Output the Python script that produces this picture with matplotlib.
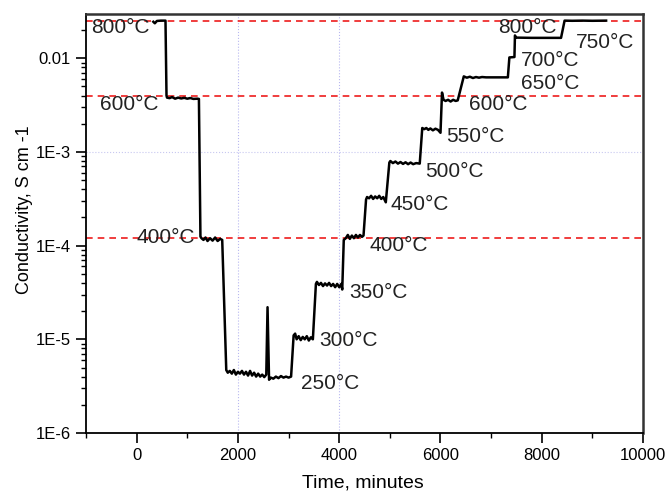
import numpy as np
import matplotlib
matplotlib.use('Agg')
import matplotlib.pyplot as plt
from matplotlib.ticker import FixedLocator, FixedFormatter, LogLocator, NullFormatter, MultipleLocator

plt.rcParams['font.family'] = ['Liberation Sans', 'DejaVu Sans']

# Conductivity during the heating / cooling programme (time in minutes, S/cm)
time_min = [330, 360, 400, 480, 570,
            590, 600, 650, 700, 760, 820, 880, 940, 1000, 1060, 1120, 1200, 1230,
            1260, 1280, 1320, 1360, 1400, 1450, 1500, 1550, 1600, 1650, 1690,
            1740, 1770, 1800, 1840, 1880, 1920, 1960, 2000, 2040, 2080, 2120, 2160,
            2200, 2240, 2280, 2320, 2360, 2400, 2440, 2480, 2520, 2560,
            2585, 2615, 2650, 2700, 2750, 2800, 2850, 2900, 2950, 3000, 3050,
            3100, 3130, 3160, 3200, 3240, 3280, 3320, 3360, 3400, 3440, 3480,
            3540, 3560, 3600, 3640, 3680, 3720, 3760, 3800, 3840, 3880, 3920, 3960,
            4000, 4040, 4060,
            4090, 4130, 4170, 4210, 4250, 4290, 4330, 4370, 4410, 4450, 4480,
            4530, 4550, 4590, 4630, 4670, 4710, 4750, 4790, 4830, 4870, 4920,
            4990, 5010, 5060, 5110, 5160, 5210, 5260, 5310, 5360, 5410, 5460, 5520, 5590,
            5640, 5680, 5720, 5760, 5800, 5850, 5900, 5950, 6000,
            6030, 6060, 6100, 6150, 6200, 6250, 6300, 6340,
            6460, 6520, 6580, 6640, 6700, 6760, 6820, 6900, 7000, 7100, 7200, 7330,
            7360, 7460, 7470, 7490, 7800, 8100, 8380,
            8450, 8600, 8800, 9000, 9270]
sigma = [0.0245, 0.0236, 0.0250, 0.0252, 0.0252,
         4.0e-3, 3.8e-3, 3.75e-3, 3.85e-3, 3.7e-3, 3.8e-3, 3.72e-3, 3.78e-3, 3.7e-3,
         3.76e-3, 3.68e-3, 3.7e-3, 3.68e-3,
         1.25e-4, 1.2e-4, 1.15e-4, 1.22e-4, 1.12e-4, 1.2e-4, 1.13e-4, 1.22e-4,
         1.12e-4, 1.18e-4, 1.15e-4,
         1.5e-5, 4.7e-6, 4.4e-6, 4.6e-6, 4.3e-6, 4.7e-6, 4.2e-6, 4.5e-6, 4.3e-6,
         4.6e-6, 4.2e-6, 4.5e-6, 4.1e-6, 4.6e-6, 4.1e-6, 4.4e-6, 4.0e-6, 4.3e-6,
         4.0e-6, 4.2e-6, 3.95e-6, 4.2e-6,
         2.2e-5, 3.7e-6, 3.9e-6, 3.8e-6, 4.0e-6, 3.85e-6, 4.05e-6, 3.9e-6, 4.0e-6,
         3.9e-6, 4.0e-6,
         1.1e-5, 1.15e-5, 1.0e-5, 1.08e-5, 0.98e-5, 1.06e-5, 1.0e-5, 1.08e-5,
         0.97e-5, 1.05e-5, 1.0e-5,
         3.9e-5, 4.1e-5, 3.8e-5, 4.0e-5, 3.7e-5, 3.95e-5, 3.75e-5, 4.0e-5, 3.7e-5,
         3.9e-5, 3.6e-5, 3.9e-5, 3.6e-5, 3.9e-5, 3.4e-5,
         1.15e-4, 1.2e-4, 1.3e-4, 1.18e-4, 1.28e-4, 1.2e-4, 1.3e-4, 1.22e-4,
         1.3e-4, 1.24e-4, 1.28e-4,
         3.1e-4, 3.3e-4, 3.2e-4, 3.4e-4, 3.15e-4, 3.35e-4, 3.2e-4, 3.4e-4,
         3.15e-4, 3.3e-4, 2.9e-4,
         7.7e-4, 8.0e-4, 7.6e-4, 7.9e-4, 7.5e-4, 7.8e-4, 7.45e-4, 7.75e-4, 7.4e-4,
         7.7e-4, 7.4e-4, 7.6e-4, 7.5e-4,
         1.8e-3, 1.75e-3, 1.8e-3, 1.72e-3, 1.78e-3, 1.7e-3, 1.77e-3, 1.72e-3, 1.6e-3,
         4.3e-3, 3.6e-3, 3.5e-3, 3.6e-3, 3.45e-3, 3.6e-3, 3.5e-3, 3.55e-3,
         6.4e-3, 6.2e-3, 6.35e-3, 6.15e-3, 6.3e-3, 6.2e-3, 6.3e-3, 6.25e-3, 6.25e-3,
         6.25e-3, 6.25e-3, 6.25e-3,
         0.0102, 0.0103, 0.0175, 0.0166, 0.0165, 0.0165, 0.0165,
         0.0252, 0.0251, 0.0252, 0.0251, 0.0252]

# reference levels (dashed red)
ref_levels = [0.025, 0.004, 1.2e-4]

# temperature labels: (text, time, conductivity)
temp_labels = ['800°C', '600°C', '400°C', '250°C', '300°C', '350°C', '400°C',
               '450°C', '500°C', '550°C', '600°C', '650°C', '700°C', '750°C', '800°C']
label_t = [-890, -730, 0, 3250, 3610, 4190, 4600, 5010, 5700, 6110, 6560,
           7590, 7580, 8680, 7130]
label_s = [0.0215, 3.2e-3, 1.22e-4, 3.34e-6, 9.6e-6, 3.16e-5, 1.0e-4, 2.75e-4,
           6.2e-4, 1.47e-3, 3.2e-3, 5.44e-3, 9.5e-3, 0.0149, 0.0215]

ytick_vals = [1e-6, 1e-5, 1e-4, 1e-3, 1e-2]
ytick_text = ['1E-6', '1E-5', '1E-4', '1E-3', '0.01']

fig = plt.figure(figsize=(6.68, 4.94), dpi=100)
ax = fig.add_axes([0.1287, 0.1235, 0.834, 0.848])

# faint grid lines
for gx in [2000, 4000]:
    ax.axvline(gx, color='#b8b8f0', lw=0.8, ls=':', zorder=0)
ax.axhline(1e-3, color='#c8c8f0', lw=0.8, ls=':', zorder=0)

for lev in ref_levels:
    ax.axhline(lev, color='#ee1c1c', lw=1.2, ls=(0, (4, 3)), zorder=1)

ax.plot(time_min, sigma, color='black', lw=1.8, zorder=3)

for txt, t, s in zip(temp_labels, label_t, label_s):
    ax.text(t, s, txt, fontsize=15, ha='left', va='center', color='#222222', zorder=4)

ax.set_yscale('log')
ax.set_xlim(-1000, 10000)
ax.set_ylim(1e-6, 0.0296)

ax.xaxis.set_major_locator(MultipleLocator(2000))
ax.xaxis.set_minor_locator(MultipleLocator(1000))
ax.yaxis.set_major_locator(FixedLocator(ytick_vals))
ax.yaxis.set_major_formatter(FixedFormatter(ytick_text))
ax.yaxis.set_minor_locator(LogLocator(base=10, subs=np.arange(2, 10)))
ax.yaxis.set_minor_formatter(NullFormatter())

ax.tick_params(which='major', direction='out', length=7, width=1.2, labelsize=12, pad=4)
ax.tick_params(which='minor', direction='out', length=3.5, width=1.0)
ax.tick_params(top=False, right=False, which='both')

for side in ['left', 'bottom']:
    ax.spines[side].set_linewidth(1.3)
for side in ['top', 'right']:
    ax.spines[side].set_linewidth(1.8)
    ax.spines[side].set_color('#333333')

ax.set_xlabel('Time, minutes', fontsize=14)
ax.set_ylabel('Conductivity, S cm -1', fontsize=13)
ax.xaxis.set_label_coords(0.497, -0.100)
ax.yaxis.set_label_coords(-0.095, 0.533)

fig.savefig('out.png', dpi=100)
